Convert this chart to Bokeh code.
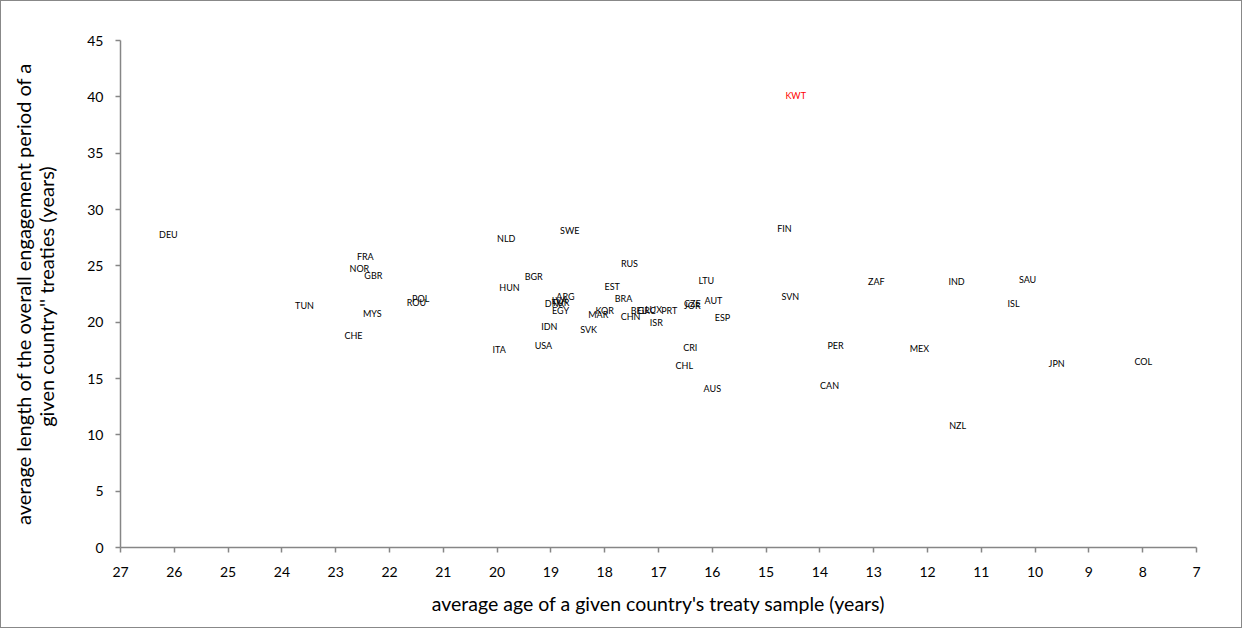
from bokeh.plotting import figure
from bokeh.models import Range1d, ColumnDataSource, FixedTicker
from bokeh.core.properties import value
from bokeh.embed import file_html
from bokeh.resources import INLINE

countries = ["DEU", "KWT", "TUN", "FRA", "NOR", "GBR", "MYS", "CHE", "POL", "ROU",
             "NLD", "SWE", "HUN", "BGR", "ARG", "DNK", "EGY", "LVA", "TUR", "KOR",
             "MAR", "EST", "RUS", "BRA", "CHN", "BEL", "GRC", "LUX", "PRT", "ISR",
             "IDN", "SVK", "USA", "ITA", "LTU", "CZE", "JOR", "AUT", "ESP", "CRI",
             "CHL", "AUS", "FIN", "SVN", "ZAF", "PER", "CAN", "MEX", "IND", "NZL",
             "SAU", "ISL", "JPN", "COL"]
avg_age = [26.11, 14.45, 23.58, 22.45, 22.56, 22.30, 22.32, 22.67, 21.42, 21.50,
           19.83, 18.65, 19.77, 19.32, 18.73, 18.93, 18.82, 18.84, 18.82, 18.00,
           18.12, 17.86, 17.54, 17.65, 17.52, 17.37, 17.22, 17.09, 16.80, 17.04,
           19.03, 18.30, 19.14, 19.96, 16.11, 16.37, 16.37, 15.98, 15.81, 16.41,
           16.52, 16.00, 14.66, 14.55, 12.95, 13.71, 13.82, 12.15, 11.46, 11.44,
           10.14, 10.40, 9.60, 7.99]
avg_length = [27.55, 39.86, 21.17, 25.60, 24.53, 23.91, 20.46, 18.51, 21.79, 21.52,
              27.19, 27.90, 22.85, 23.83, 22.05, 21.35, 20.81, 21.70, 21.52, 20.80,
              20.37, 22.94, 24.98, 21.79, 20.28, 20.80, 20.80, 20.90, 20.80, 19.66,
              19.31, 19.04, 17.63, 17.27, 23.47, 21.43, 21.17, 21.70, 20.19, 17.45,
              15.85, 13.82, 28.08, 22.05, 23.30, 17.63, 14.08, 17.36, 23.30, 10.54,
              23.56, 21.43, 16.03, 16.21]
colors = ["#FF0000" if c == "KWT" else "#000000" for c in countries]

x_ticks = list(range(7, 28))
y_ticks = list(range(0, 46, 5))

src = ColumnDataSource(dict(x=avg_age, y=avg_length, t=countries, c=colors))

p = figure(width=1242, height=628, output_backend="svg", toolbar_location=None,
           x_range=Range1d(27, 7), y_range=Range1d(0, 45),
           min_border_left=119, min_border_right=47, min_border_top=39, min_border_bottom=82)
p.styles = {"border": "1px solid #888888"}
p.outline_line_color = None
p.xgrid.visible = False
p.ygrid.visible = False

p.text(x="x", y="y", text="t", source=src, text_color="c",
       text_font=value("Lato"), text_font_size="9px",
       text_align="center", text_baseline="middle", y_offset=-3)

for ax in (p.xaxis[0], p.yaxis[0]):
    ax.axis_line_color = "#868686"
    ax.axis_line_width = 1.5
    ax.major_tick_line_color = "#868686"
    ax.major_tick_line_width = 1.5
    ax.minor_tick_line_color = None
    ax.major_tick_in = 0
    ax.major_tick_out = 5
    ax.major_label_text_font = "Lato"
    ax.major_label_text_font_size = "14px"
    ax.major_label_text_color = "#000000"
    ax.axis_label_text_font = "Lato"
    ax.axis_label_text_font_style = "normal"
    ax.axis_label_text_color = "#000000"
    ax.axis_label_text_line_height = 0.95

p.xaxis[0].axis_label_text_font_size = "19.5px"
p.yaxis[0].axis_label_text_font_size = "20px"
p.xaxis[0].ticker = FixedTicker(ticks=x_ticks)
p.yaxis[0].ticker = FixedTicker(ticks=y_ticks)
p.xaxis[0].axis_label = "average age of a given country's treaty sample (years)"
p.yaxis[0].axis_label = "average length of the overall engagement period of a\ngiven country'' treaties  (years)"
p.xaxis[0].major_label_standoff = 14
p.yaxis[0].major_label_standoff = 12
p.xaxis[0].axis_label_standoff = 12
p.yaxis[0].axis_label_standoff = 26

open("out.html", "w").write(file_html(p, INLINE))
